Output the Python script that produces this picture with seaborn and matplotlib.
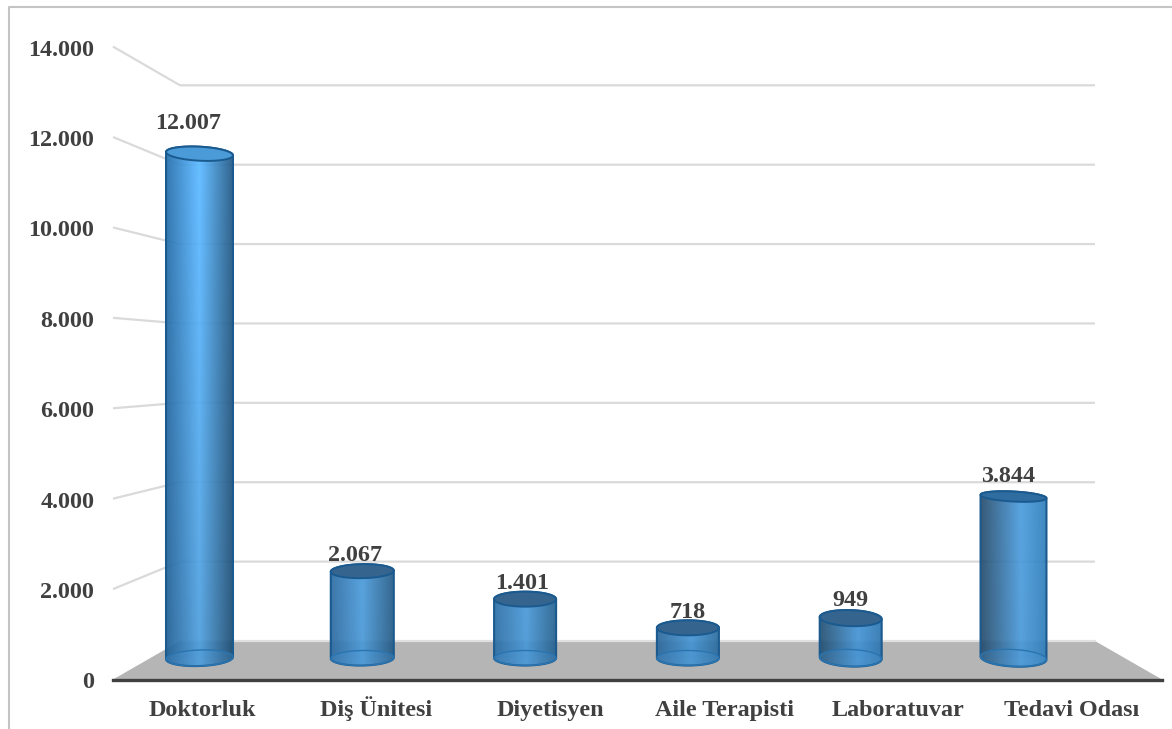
import numpy as np
import pandas as pd
import matplotlib
matplotlib.use("Agg")
import matplotlib.pyplot as plt
import seaborn as sns
from matplotlib.colors import to_rgb
from matplotlib.lines import Line2D
from matplotlib.patches import PathPatch
from matplotlib.path import Path
from matplotlib.transforms import IdentityTransform, ScaledTranslation

# ---- data ----
categories = ["Doktorluk", "Diş Ünitesi", "Diyetisyen", "Aile Terapisti", "Laboratuvar", "Tedavi Odası"]
values = [12007, 2067, 1401, 718, 949, 3844]
y_ticks = [0, 2000, 4000, 6000, 8000, 10000, 12000, 14000]

# ---- style ----
sns.set_theme(style="white")
plt.rcParams["font.family"] = ["Liberation Serif", "DejaVu Serif"]
W, H = 1172, 729
TXT = "#404040"
FS = 17.4
bar_w_px = [67, 63, 62, 62, 62, 66]
top_ry = [7, 7, 7.5, 7.5, 8, 5]
bot_ry = [8, 7.5, 7.5, 7.5, 8.5, 8.5]
top_ang = [-3, 1, 0, 0, -2, -3]
bot_ang = [2, 1, 0, 0, -2, -3]
left_col = ["#1f5f95", "#2d6ca3", "#2c6ea6", "#2c689c", "#244f70", "#264a68"]
mid_col = ["#50a3e4", "#4c9ddd", "#4a9bdb", "#4596d6", "#4596d8", "#4c9ee0"]
right_col = ["#1c4c72", "#245a85", "#25618f", "#2a6c9f", "#2d75b0", "#3080bd"]
mid_pos = [0.5, 0.5, 0.52, 0.55, 0.6, 0.62]
top_col = ["#4a9bd8", "#35658f", "#35658f", "#35658f", "#35658f", "#2f6c9f"]
label_dx = [-11, -7, -3, 0, 0, -5]
label_dy = [26, 11, 11, 10, 12, 18]

fig = plt.figure(figsize=(W / 100, H / 100), dpi=100, facecolor="white")


def px_rect(x0, x1, y_top, y_bot):
    return [x0 / W, 1 - y_bot / H, (x1 - x0) / W, (y_bot - y_top) / H]


# ---- wall / floor axes, carrying the axis scale and the labels ----
wall = fig.add_axes(px_rect(113, 1162, 46.6, 679.5))
wall.set_facecolor("none")
unit = 173.9
wall.set_xlim(-(202.5 - 113) / unit, (1162 - 202.5) / unit)
wall.set_ylim(0, 14000)
back_l, back_r = (180 - 202.5) / unit, (1095 - 202.5) / unit
x_l, x_r = wall.get_xlim()
floor_back = 852
for v in y_ticks[1:]:
    b = floor_back + 0.878 * v
    wall.plot([x_l, back_l, back_r], [v, b, b], color="#dadada", lw=1.6, solid_capstyle="butt", zorder=1, clip_on=False)
wall.fill([x_l, back_l, back_r, x_r], [0, floor_back, floor_back, 0], color="#b5b5b5", lw=0, zorder=2)
wall.plot([back_l, back_r], [floor_back, floor_back], color="#e0e0e0", lw=1.6, zorder=3)
wall.set_yticks(y_ticks)
wall.set_yticklabels([f"{v:,}".replace(",", ".") for v in y_ticks], fontsize=FS, fontweight="bold", color=TXT)
wall.set_xticks(range(len(categories)))
wall.set_xticklabels(categories, fontsize=FS, fontweight="bold", color=TXT, va="baseline")
wall.tick_params(axis="y", length=0, pad=13.5)
wall.tick_params(axis="x", length=0, pad=26)
for s in ("top", "left", "right"):
    wall.spines[s].set_visible(False)
wall.spines["bottom"].set_color("#404040")
wall.spines["bottom"].set_linewidth(2.4)
wall.spines["bottom"].set_zorder(5)
nudge = ScaledTranslation(0, -1 / 100, fig.dpi_scale_trans)
for lab in wall.get_yticklabels():
    lab.set_transform(lab.get_transform() + nudge)

# ---- bars ----
ax = fig.add_axes(px_rect(0, W, 0, 679))
ax.set_facecolor("none")
df = pd.DataFrame({"category": categories, "value": values})
sns.barplot(data=df, x="category", y="value", color="#3f8fd0", width=0.385, ax=ax, saturation=1, zorder=3)
xstep = 162.8
xlim = (-199.5 / xstep, (W - 199.5) / xstep)
ylim = (-21 / 0.042, 658 / 0.042)
ax.set_xlim(*xlim)
ax.set_ylim(*ylim)
ax.axis("off")
fig.canvas.draw()


def arc(cx, cy, a, b, ang, t0, t1, n=60):
    t = np.linspace(t0, t1, n)
    x, y = a * np.cos(t), b * np.sin(t)
    r = np.deg2rad(ang)
    return np.c_[cx + x * np.cos(r) - y * np.sin(r), cy + x * np.sin(r) + y * np.cos(r)]


for i, (patch, v) in enumerate(zip(ax.patches, values)):
    cx, y1 = ax.transData.transform((i, v))
    _, y0 = ax.transData.transform((i, 0))
    a = bar_w_px[i] / 2
    bot = arc(cx, y0, a, bot_ry[i], bot_ang[i], np.pi, 2 * np.pi)
    top = arc(cx, y1, a, top_ry[i], top_ang[i], 0, np.pi)
    body = Path(np.vstack([bot, top, bot[:1]]), closed=True)

    patch.set_width(bar_w_px[i] / xstep)
    patch.set_x(i - bar_w_px[i] / xstep / 2)
    patch.set_alpha(0.25)
    patch.set_linewidth(0)
    patch.set_clip_path(body, IdentityTransform())

    xs = np.linspace(0, 1, 200)
    p = mid_pos[i]
    L, M, R = map(np.array, (to_rgb(left_col[i]), to_rgb(mid_col[i]), to_rgb(right_col[i])))
    prof = np.array([np.interp(xs, [0, p, 1], [L[c], M[c], R[c]]) for c in range(3)]).T
    n_rows = 60
    boost = np.linspace(1.16 if v > 8000 else 1.0, 0.97, n_rows)[:, None, None]
    img = np.clip(prof[None, :, :] * boost, 0, 1)
    rgba = np.dstack([img, np.full(img.shape[:2], 0.9)])
    dy = 12 / 0.042
    im = ax.imshow(rgba, extent=[patch.get_x(), patch.get_x() + patch.get_width(), -dy, v + dy],
                   aspect="auto", origin="upper", zorder=4, interpolation="bilinear")
    im.set_clip_path(body, IdentityTransform())

    # outline of the body
    ax.add_patch(PathPatch(body, fc="none", ec="#1a5a8f", lw=1.5, transform=IdentityTransform(), zorder=5))
    # base ellipse
    base = Path(arc(cx, y0, a, bot_ry[i], bot_ang[i], 0, 2 * np.pi), closed=True)
    ax.add_patch(PathPatch(base, fc=(0.30, 0.62, 0.88, 0.22), ec="#2a74b0", lw=1.0, transform=IdentityTransform(), zorder=5))
    # top ellipse
    lid = Path(arc(cx, y1, a, top_ry[i], top_ang[i], 0, 2 * np.pi), closed=True)
    ax.add_patch(PathPatch(lid, fc=top_col[i], ec="#1a5a8f", lw=1.4, transform=IdentityTransform(), zorder=6))

    ax.annotate(f"{v:,}".replace(",", "."), (i, v),
                xytext=(label_dx[i], top_ry[i] + label_dy[i]), textcoords="offset pixels",
                ha="center", va="center_baseline", fontsize=FS, fontweight="bold", color=TXT, zorder=7)

ax.set_xlim(*xlim)
ax.set_ylim(*ylim)

# ---- frame ----
fig.add_artist(Line2D([8.5 / W, 8.5 / W, 1], [0, 1 - 6.5 / H, 1 - 6.5 / H], color="#c4c4c4", lw=1.5))

fig.savefig("out.png", dpi=100, facecolor="white")
